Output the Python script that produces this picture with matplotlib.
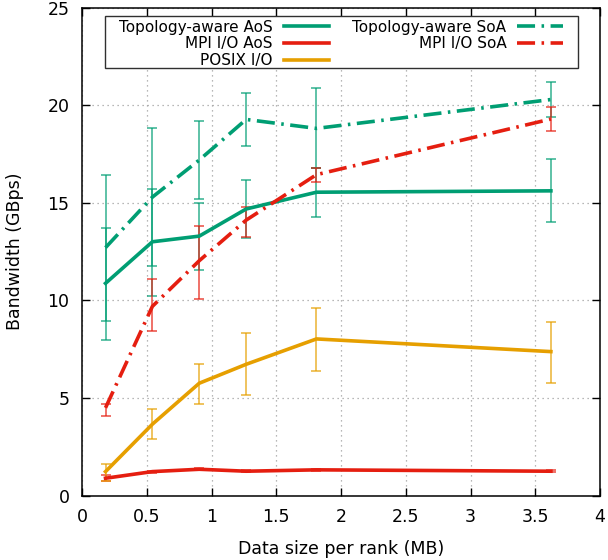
import numpy as np
import matplotlib.pyplot as plt
from matplotlib.patches import Rectangle

# data size per rank (MB)
x = [0.181, 0.543, 0.905, 1.267, 1.81, 3.62]

# bandwidth (GBps), with min/max of the error bars
topo_aos = [10.88, 13.01, 13.30, 14.69, 15.55, 15.62]
topo_aos_lo = [8.95, 10.25, 11.56, 13.19, 14.29, 14.00]
topo_aos_hi = [13.73, 15.73, 14.98, 16.17, 16.77, 17.23]

topo_soa = [12.71, 15.30, 17.20, 19.28, 18.82, 20.30]
topo_soa_lo = [7.98, 11.75, 15.20, 17.92, 16.77, 19.39]
topo_soa_hi = [16.41, 18.84, 19.18, 20.65, 20.90, 21.18]

mpi_aos = [0.89, 1.23, 1.35, 1.25, 1.32, 1.25]
mpi_aos_lo = [0.75, 1.18, 1.30, 1.20, 1.27, 1.20]
mpi_aos_hi = [1.06, 1.28, 1.40, 1.30, 1.37, 1.30]

mpi_soa = [4.50, 9.70, 12.04, 14.12, 16.45, 19.30]
mpi_soa_lo = [4.10, 8.42, 10.09, 13.27, 16.06, 18.70]
mpi_soa_hi = [4.71, 11.09, 13.83, 14.80, 16.77, 19.90]

posix = [1.23, 3.66, 5.76, 6.73, 8.03, 7.38]
posix_lo = [0.75, 2.90, 4.68, 5.16, 6.37, 5.79]
posix_hi = [1.61, 4.43, 6.73, 8.32, 9.62, 8.90]

green = '#009E73'
red = '#E51E10'
yellow = '#E69F00'
dashdot = (5, 1.8, 0.7, 1.8)

series = [
    ('Topology-aware AoS', topo_aos, topo_aos_lo, topo_aos_hi, green, None),
    ('MPI I/O AoS', mpi_aos, mpi_aos_lo, mpi_aos_hi, red, None),
    ('POSIX I/O', posix, posix_lo, posix_hi, yellow, None),
    ('Topology-aware SoA', topo_soa, topo_soa_lo, topo_soa_hi, green, dashdot),
    ('MPI I/O SoA', mpi_soa, mpi_soa_lo, mpi_soa_hi, red, dashdot),
]

fig = plt.figure(figsize=(6.08, 5.6), dpi=100)
ax = fig.add_axes([0.135, 0.115, 0.852, 0.871])

for label, y, lo, hi, c, dash in series:
    y = np.array(y)
    err = [y - np.array(lo), np.array(hi) - y]
    ax.errorbar(x, y, yerr=err, fmt='none', ecolor=c, elinewidth=1.1,
                capsize=3.5, capthick=1.1, alpha=0.8, zorder=2)

for label, y, lo, hi, c, dash in series:
    if dash is None:
        ax.plot(x, y, color=c, lw=2.6, label=label, zorder=3,
                solid_joinstyle='round')
    else:
        ax.plot(x, y, color=c, lw=2.6, label=label, zorder=3,
                dashes=dash)

ax.set_xlim(0, 4)
ax.set_ylim(0, 25)
ax.set_xticks(np.arange(0, 4.01, 0.5))
ax.set_xticklabels(['0', '0.5', '1', '1.5', '2', '2.5', '3', '3.5', '4'])
ax.set_yticks(np.arange(0, 26, 5))
ax.tick_params(direction='in', length=6, width=1, top=True, right=True,
               labelsize=12.5, pad=9)
ax.grid(True, color='#a0a0a0', linestyle=(0, (1, 3)), lw=0.9)
for s in ax.spines.values():
    s.set_linewidth(1.1)

ax.set_xlabel('Data size per rank (MB)', fontsize=12.5, labelpad=10)
ax.set_ylabel('Bandwidth (GBps)', fontsize=12.5, labelpad=17)

# key box drawn by hand, gnuplot style
key_box = Rectangle((0.0444, 0.877), 0.9131, 0.1066, transform=ax.transAxes,
                    facecolor='white', edgecolor='#303030', lw=1.0, zorder=4)
ax.add_patch(key_box)
leg = ax.legend(ncol=2, loc='upper left', bbox_to_anchor=(0.0714, 0.9754),
                borderaxespad=0, markerfirst=False, fontsize=11,
                labelspacing=0.1, handlelength=3.0, handletextpad=0.7,
                columnspacing=1.5, borderpad=0, frameon=False)
leg.set_zorder(5)

fig.savefig('out.png', dpi=100)
